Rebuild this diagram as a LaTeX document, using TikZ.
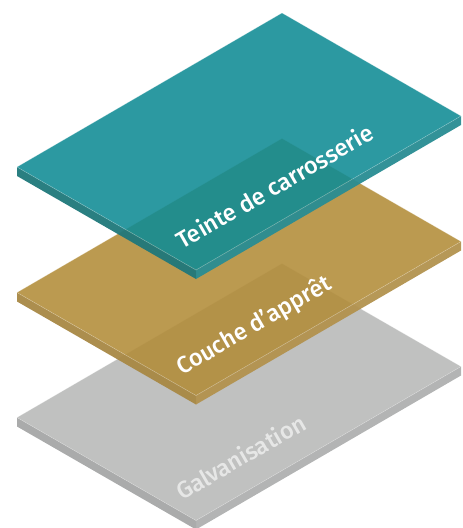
\documentclass[tikz,border=0pt]{standalone}
\usepackage{fontspec}
\setmainfont{Fira Sans}
\newfontfamily\lblfont{Fira Sans Medium}
\definecolor{tealtop}{RGB}{15,139,148}
\definecolor{tealleft}{RGB}{31,120,122}
\definecolor{tealright}{RGB}{40,140,146}
\definecolor{goldtop}{RGB}{178,140,56}
\definecolor{goldleft}{RGB}{168,136,68}
\definecolor{goldright}{RGB}{178,146,78}
\definecolor{graytop}{RGB}{183,184,183}
\definecolor{grayleft}{RGB}{165,166,166}
\definecolor{grayright}{RGB}{175,176,176}
\tikzset{
  topface/.style={fill=#1, fill opacity=0.88, draw=white, draw opacity=0.35, line width=0.5pt},
  sideface/.style={fill=#1, fill opacity=0.95},
  lbl/.style={text=white, font=\lblfont\fontsize{23.5}{28}\selectfont, inner sep=0pt, anchor=base west, rotate=30}
}
\newcommand\mkslab[4]{%
  \begin{scope}[shift={(0,#1)}]
    \fill[sideface=#3] (17,167) -- (196,270) -- (196,279) -- (17,176) -- cycle;
    \fill[sideface=#4] (196,270) -- (461,116) -- (461,125) -- (196,279) -- cycle;
    \path[topface=#2] (282,13) -- (17,167) -- (196,270) -- (461,116) -- cycle;
  \end{scope}}
\begin{document}
\begin{tikzpicture}[x=1pt,y=-1pt]
  \useasboundingbox (0,0) rectangle (463,528);
  \mkslab{250.5}{graytop}{grayleft}{grayright}
  \node[lbl, text opacity=0.62] (galv) at (182,501) {Galvanisation};
  \mkslab{125.5}{goldtop}{goldleft}{goldright}
  \node[lbl] (couche) at (182,375.5) {Couche d’apprêt};
  \mkslab{0}{tealtop}{tealleft}{tealright}
  \node[lbl] (teinte) at (182,250) {Teinte de carrosserie};
\end{tikzpicture}
\end{document}
